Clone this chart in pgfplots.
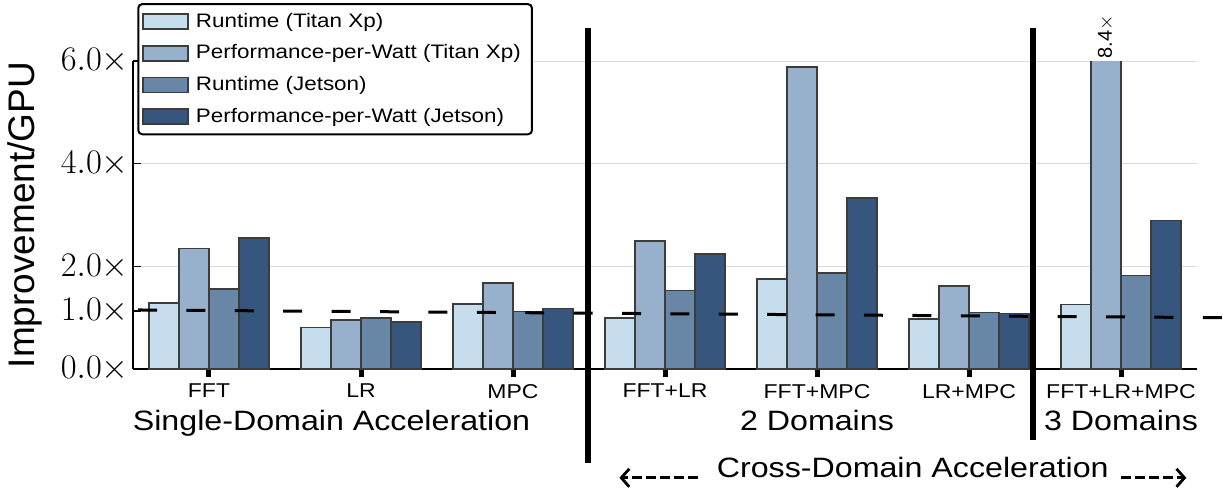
\documentclass[border=0pt]{standalone}
\usepackage{fontspec}
\setmainfont{Liberation Sans}[FakeStretch=1.15]
\newfontfamily\plainsans{Liberation Sans}
\usepackage{pgfplots}
\usepackage{pgfplotstable}
\pgfplotsset{compat=1.18}
\usetikzlibrary{arrows.meta}

\definecolor{cA}{RGB}{198,221,237}
\definecolor{cB}{RGB}{151,177,204}
\definecolor{cC}{RGB}{104,134,166}
\definecolor{cD}{RGB}{54,86,126}
\definecolor{edge}{RGB}{60,60,60}

\pgfplotstableread{
x rtT ppwT rtJ ppwJ
0 1.29 2.35 1.56 2.55
1 0.81 0.95 0.99 0.92
2 1.27 1.68 1.12 1.18
3 0.99 2.49 1.53 2.24
4 1.75 5.88 1.87 3.33
5 0.97 1.62 1.10 1.08
6 1.26 8.40 1.82 2.89
}\datatable

\begin{document}
\begin{tikzpicture}
\path[use as bounding box] (-66.5bp,-60bp) rectangle (545bp,184.5bp);
\begin{axis}[
  at={(0,0)}, anchor=south west,
  scale only axis, width=532bp, height=154bp,
  xmin=-0.5, xmax=6.5, ymin=0, ymax=6,
  clip mode=individual,
  axis x line*=bottom, axis y line*=left,
  axis line style={-, line width=1bp, black},
  ybar=0pt, bar width=15bp,
  xtick={0,1,2,3,4,5,6},
  xticklabels={FFT,LR,MPC,FFT+LR,FFT+MPC,LR+MPC,FFT+LR+MPC},
  ytick={0,2,4,6},
  yticklabels={$0.0\times$,$2.0\times$,$4.0\times$,$6.0\times$},
  extra y ticks={1.13},
  extra y tick labels={$1.0\times$},
  extra y tick style={grid=none},
  ymajorgrids,
  major grid style={line width=0.5bp, color=black!14},
  tick align=inside,
  major tick length=4bp,
  xtick style={line width=2.5bp, black, yshift=-4bp},
  ytick style={line width=0.8bp, black},
  xticklabel style={font=\fontsize{10bp}{10bp}\selectfont, yshift=-4bp},
  yticklabel style={font=\fontsize{16bp}{16bp}\selectfont, inner sep=2bp},
  every axis plot/.append style={draw=edge, line width=0.75bp},
  legend image code/.code={\draw[#1, sharp corners, line width=0.75bp] (0bp,-3.75bp) rectangle (22.5bp,3.75bp);},
  legend cell align=left,
  legend style={at={(rel axis cs:0.004,1.188)}, anchor=north west,
    draw=black, line width=1bp, rounded corners=2bp,
    font=\fontsize{9.75bp}{9.75bp}\selectfont,
    inner xsep=2bp, inner ysep=2.5bp, row sep=3.3bp,
    nodes={inner xsep=3.6bp}},
]
\addplot[fill=cA] table[x=x,y=rtT] {\datatable};
\addplot[fill=cB] table[x=x,y=ppwT] {\datatable};
\addplot[fill=cC] table[x=x,y=rtJ] {\datatable};
\addplot[fill=cD] table[x=x,y=ppwJ] {\datatable};
\legend{Runtime (Titan Xp),Performance-per-Watt (Titan Xp),Runtime (Jetson),Performance-per-Watt (Jetson)}

\draw[line width=1.5bp, dash pattern=on 9.5bp off 14.7bp] (axis cs:-0.467,1.15) -- (axis cs:6.67,1.0);
\draw[line width=2.8bp] (axis cs:2.493,6.65) -- (axis cs:2.493,-1.83);
\draw[line width=2.8bp] (axis cs:5.42,6.65) -- (axis cs:5.42,-1.38);

\node[rotate=90, anchor=west, inner sep=1bp, font=\plainsans\fontsize{10bp}{10bp}\selectfont] at (axis cs:5.90,6) {8.4$\times$};
\node[rotate=90, anchor=base, inner sep=0pt, font=\plainsans\fontsize{18.5bp}{18.5bp}\selectfont] at (axis cs:-1.145,3.0) {Improvement/GPU};

\node[anchor=base, inner sep=0pt, font=\fontsize{14bp}{14bp}\selectfont] at (axis cs:0.806,-1.19) {Single-Domain Acceleration};
\node[anchor=base, inner sep=0pt, font=\fontsize{14bp}{14bp}\selectfont] at (axis cs:4,-1.19) {2 Domains};
\node[anchor=base, inner sep=0pt, font=\fontsize{14bp}{14bp}\selectfont] at (axis cs:6,-1.19) {3 Domains};
\node[anchor=base, inner sep=0pt, font=\fontsize{14bp}{14bp}\selectfont] at (axis cs:4.63,-2.12) {Cross-Domain Acceleration};
\draw[line width=1.4bp, dash pattern=on 5bp off 2bp, -{Straight Barb[length=4bp, width=9bp, line width=1.4bp]}] (axis cs:3.22,-2.12) -- (axis cs:2.70,-2.12);
\draw[line width=1.4bp, dash pattern=on 5bp off 2bp, -{Straight Barb[length=4bp, width=9bp, line width=1.4bp]}] (axis cs:6.0,-2.12) -- (axis cs:6.43,-2.12);
\end{axis}
\end{tikzpicture}
\end{document}
